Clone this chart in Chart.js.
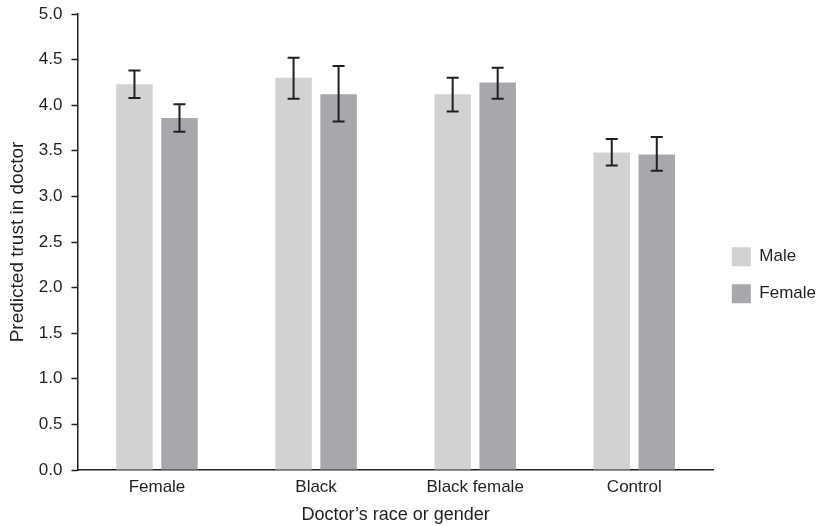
<!DOCTYPE html>
<html>
<head>
<meta charset="utf-8">
<script src="https://cdn.jsdelivr.net/npm/chart.js@4/dist/chart.umd.min.js"></script>
<style>
  html, body { margin: 0; padding: 0; background: #ffffff; }
  #wrap { width: 826px; height: 526px; position: relative; }
</style>
</head>
<body>
<div id="wrap"><canvas id="c" width="826" height="526"></canvas></div>
<script>
const categories = ["Female", "Black", "Black female", "Control"];
const seriesNames = ["Male", "Female"];
const maleValues = [4.23, 4.30, 4.12, 3.48];
const femaleValues = [3.86, 4.12, 4.25, 3.46];
const maleErrLow = [4.08, 4.07, 3.93, 3.34];
const maleErrHigh = [4.38, 4.52, 4.30, 3.63];
const femaleErrLow = [3.71, 3.82, 4.07, 3.28];
const femaleErrHigh = [4.01, 4.43, 4.41, 3.65];
const yTicks = [0, 0.5, 1, 1.5, 2, 2.5, 3, 3.5, 4, 4.5, 5];

const INK = '#231f20';
const FONT = '"Liberation Sans", Arial, Helvetica, sans-serif';

const errorBars = {
  id: 'errorBars',
  afterDatasetsDraw(chart) {
    const ctx = chart.ctx;
    const y = chart.scales.y;
    ctx.save();
    ctx.strokeStyle = INK;
    ctx.lineWidth = 2;
    chart.data.datasets.forEach((ds, di) => {
      const meta = chart.getDatasetMeta(di);
      meta.data.forEach((bar, i) => {
        const x = bar.x;
        const yl = y.getPixelForValue(ds.errLow[i]);
        const yh = y.getPixelForValue(ds.errHigh[i]);
        const cap = 6;
        ctx.beginPath();
        ctx.moveTo(x, yl); ctx.lineTo(x, yh);
        ctx.moveTo(x - cap, yl); ctx.lineTo(x + cap, yl);
        ctx.moveTo(x - cap, yh); ctx.lineTo(x + cap, yh);
        ctx.stroke();
      });
    });
    ctx.restore();
  }
};

new Chart(document.getElementById('c'), {
  type: 'bar',
  data: {
    labels: categories,
    datasets: [
      { label: seriesNames[0], data: maleValues, errLow: maleErrLow, errHigh: maleErrHigh,
        backgroundColor: '#d1d2d4', borderWidth: 0, categoryPercentage: 0.566, barPercentage: 0.81 },
      { label: seriesNames[1], data: femaleValues, errLow: femaleErrLow, errHigh: femaleErrHigh,
        backgroundColor: '#a7a8ac', borderWidth: 0, categoryPercentage: 0.566, barPercentage: 0.81 }
    ]
  },
  options: {
    responsive: false,
    animation: false,
    devicePixelRatio: 1,
    layout: { padding: { top: 0, right: 0, bottom: 0, left: 0 } },
    plugins: {
      tooltip: { enabled: false },
      legend: {
        position: 'right',
        align: 'center',
        title: { display: true, text: ' ', padding: 2, font: { size: 17, family: FONT } },
        labels: {
          boxWidth: 19, boxHeight: 19, padding: 18,
          color: INK,
          font: { size: 17, family: FONT }
        }
      }
    },
    scales: {
      x: {
        grid: { display: false, drawTicks: false },
        border: { display: true, color: INK, width: 1.5 },
        ticks: { color: INK, font: { size: 17, family: FONT }, padding: 7 },
        title: { display: true, text: "Doctor\u2019s race or gender", color: INK,
                 font: { size: 18, family: FONT }, padding: { top: 0, bottom: 0 } }
      },
      y: {
        min: 0, max: 5,
        afterBuildTicks(axis) { axis.ticks = yTicks.map(v => ({ value: v })); },
        afterFit(scale) { scale.paddingTop = 14; },
        grid: { drawOnChartArea: false, drawTicks: true, tickLength: 6, color: INK, tickWidth: 1.5 },
        border: { display: true, color: INK, width: 1.5 },
        ticks: { color: INK, font: { size: 17, family: FONT }, padding: 9,
                 callback: v => Number(v).toFixed(1) },
        title: { display: true, text: 'Predicted trust in doctor', color: INK,
                 font: { size: 19, family: FONT }, padding: { top: 6, bottom: 1 } }
      }
    }
  },
  plugins: [errorBars]
});
</script>
</body>
</html>
